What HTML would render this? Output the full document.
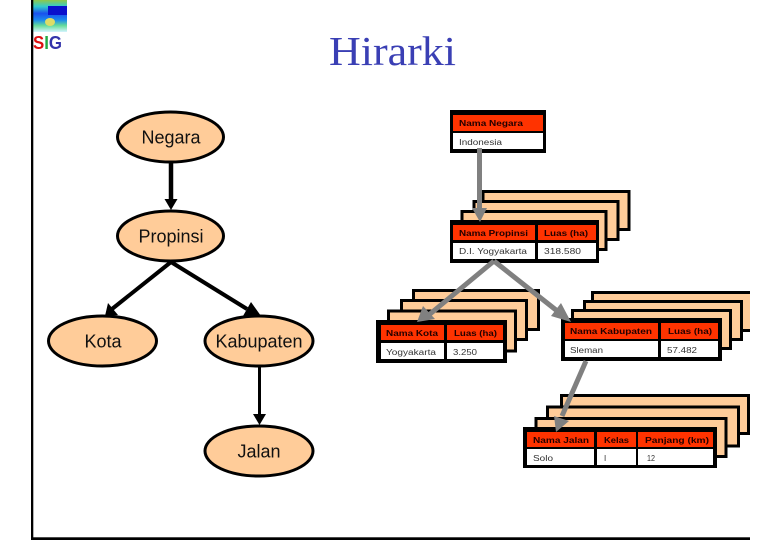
<!DOCTYPE html>
<html><head><meta charset="utf-8"><style>
html,body{margin:0;padding:0;background:#fff;width:780px;height:540px;overflow:hidden}
svg{display:block;filter:blur(.35px)}
.s{fill:#ffcc99;stroke:#000;stroke-width:3}
.b{fill:#000}
.r{fill:#ff3300}
.w{fill:#fff}
.e{fill:#ffcc99;stroke:#000;stroke-width:3}
.h{font:bold 8px "Liberation Sans",sans-serif;fill:#220000}
.c{font:8px "Liberation Sans",sans-serif;fill:#333}
.l{font:18px "Liberation Sans",sans-serif;fill:#111;text-anchor:middle}
</style></head><body>
<svg width="780" height="540" viewBox="0 0 780 540" xmlns="http://www.w3.org/2000/svg">
<defs>
<linearGradient id="lg" x1="0" y1="0" x2="0" y2="1">
<stop offset="0" stop-color="#8fc84a"/><stop offset=".2" stop-color="#33cccc"/><stop offset=".42" stop-color="#1a50ee"/><stop offset=".62" stop-color="#1a88ee"/><stop offset=".8" stop-color="#66dd99"/><stop offset="1" stop-color="#d5f4ff"/>
</linearGradient>
<clipPath id="cp"><rect x="0" y="0" width="750" height="540"/></clipPath>
</defs>
<rect x="33" y="0" width="34" height="32" fill="url(#lg)"/>
<ellipse cx="50" cy="22" rx="5" ry="4" fill="#dddd66"/>
<rect x="48" y="6" width="19" height="9" fill="#0a10cc"/>
<text x="33" y="49" font-family="Liberation Sans,sans-serif" font-weight="bold" font-size="18" textLength="29" lengthAdjust="spacingAndGlyphs"><tspan fill="#dd1111">S</tspan><tspan fill="#22aa44">I</tspan><tspan fill="#3333aa">G</tspan></text>
<rect x="31" y="0" width="2.300" height="540" fill="#000"/>
<rect x="31" y="537.300" width="719" height="2.700" fill="#000"/>
<text x="329" y="65" font-family="Liberation Serif,serif" font-size="41" fill="#3a3fb4" textLength="127" lengthAdjust="spacingAndGlyphs">Hirarki</text>

<!-- left tree -->
<path d="M171 163V200" stroke="#000" stroke-width="4.5" fill="none"/>
<path d="M164.500 199H177.500L171 210Z" class="b"/>
<path d="M171 262L112 309M171 262L247 309" stroke="#000" stroke-width="4" fill="none"/>
<path d="M105 316L108 303L118 315Z" class="b"/>
<path d="M261 316L243 316L251 302Z" class="b"/>
<path d="M259.500 367V416" stroke="#000" stroke-width="3" fill="none"/>
<path d="M253 414H266L259.500 425Z" class="b"/>
<ellipse class="e" cx="170.500" cy="137" rx="53" ry="25"/>
<ellipse class="e" cx="170.500" cy="236" rx="53" ry="25"/>
<ellipse class="e" cx="102.500" cy="341" rx="54" ry="25"/>
<ellipse class="e" cx="259" cy="341" rx="54" ry="25"/>
<ellipse class="e" cx="259" cy="451" rx="54" ry="25"/>
<text class="l" x="171" y="143.500">Negara</text>
<text class="l" x="171" y="242.500">Propinsi</text>
<text class="l" x="103" y="347.500">Kota</text>
<text class="l" x="259" y="347.500">Kabupaten</text>
<text class="l" x="259" y="457.500">Jalan</text>

<g clip-path="url(#cp)">
<!-- Negara table -->
<rect class="b" x="450" y="110" width="96" height="43"/>
<rect class="r" x="453" y="115" width="90" height="16"/>
<rect class="w" x="453" y="133" width="90" height="16"/>
<text class="h" x="459" y="126" textLength="64" lengthAdjust="spacingAndGlyphs">Nama Negara</text>
<text class="c" x="459" y="145" textLength="43" lengthAdjust="spacingAndGlyphs">Indonesia</text>

<!-- Propinsi stack -->
<rect class="s" x="483" y="191.500" width="146" height="38"/>
<rect class="s" x="474" y="201.500" width="144" height="38"/>
<rect class="s" x="462" y="211.500" width="144" height="38"/>
<rect class="b" x="450" y="220" width="149" height="43"/>
<rect class="r" x="453" y="225" width="82" height="15"/>
<rect class="r" x="538" y="225" width="58" height="15"/>
<rect class="w" x="453" y="243" width="82" height="16"/>
<rect class="w" x="538" y="243" width="58" height="16"/>
<text class="h" x="459" y="236" textLength="69" lengthAdjust="spacingAndGlyphs">Nama Propinsi</text>
<text class="h" x="544" y="236" textLength="44" lengthAdjust="spacingAndGlyphs">Luas (ha)</text>
<text class="c" x="459" y="254" textLength="68" lengthAdjust="spacingAndGlyphs">D.I. Yogyakarta</text>
<text class="c" x="544" y="254" textLength="37" lengthAdjust="spacingAndGlyphs">318.580</text>

<!-- Kota stack -->
<rect class="s" x="413.500" y="290.500" width="125" height="39"/>
<rect class="s" x="401.500" y="300.500" width="125" height="39"/>
<rect class="s" x="388.500" y="311" width="127" height="40"/>
<rect class="b" x="376" y="320" width="131" height="43"/>
<rect class="r" x="381" y="325" width="63" height="15"/>
<rect class="r" x="447" y="325" width="56" height="15"/>
<rect class="w" x="381" y="343" width="63" height="16"/>
<rect class="w" x="447" y="343" width="56" height="16"/>
<text class="h" x="386" y="336" textLength="52" lengthAdjust="spacingAndGlyphs">Nama Kota</text>
<text class="h" x="454" y="336" textLength="43" lengthAdjust="spacingAndGlyphs">Luas (ha)</text>
<text class="c" x="386" y="355" textLength="50" lengthAdjust="spacingAndGlyphs">Yogyakarta</text>
<text class="c" x="453" y="355" textLength="24" lengthAdjust="spacingAndGlyphs">3.250</text>

<!-- Kabupaten stack -->
<rect class="s" x="592.500" y="292.500" width="170" height="38"/>
<rect class="s" x="584.500" y="301.500" width="157" height="38"/>
<rect class="s" x="572.500" y="310.500" width="158" height="38"/>
<rect class="b" x="561" y="318" width="161" height="43"/>
<rect class="r" x="565" y="323" width="93" height="16"/>
<rect class="r" x="661" y="323" width="57" height="16"/>
<rect class="w" x="565" y="341" width="93" height="16"/>
<rect class="w" x="661" y="341" width="57" height="16"/>
<text class="h" x="570" y="334" textLength="82" lengthAdjust="spacingAndGlyphs">Nama Kabupaten</text>
<text class="h" x="668" y="334" textLength="44" lengthAdjust="spacingAndGlyphs">Luas (ha)</text>
<text class="c" x="570" y="353" textLength="33" lengthAdjust="spacingAndGlyphs">Sleman</text>
<text class="c" x="667" y="353" textLength="30" lengthAdjust="spacingAndGlyphs">57.482</text>

<!-- Jalan stack -->
<rect class="s" x="561.500" y="395.500" width="187" height="38"/>
<rect class="s" x="547.500" y="407" width="191" height="39"/>
<rect class="s" x="536" y="418.500" width="190" height="38"/>
<rect class="b" x="523" y="427" width="194" height="41"/>
<rect class="r" x="527" y="432" width="67" height="15"/>
<rect class="r" x="597" y="432" width="39" height="15"/>
<rect class="r" x="638" y="432" width="75" height="15"/>
<rect class="w" x="527" y="449" width="67" height="16"/>
<rect class="w" x="597" y="449" width="39" height="16"/>
<rect class="w" x="638" y="449" width="75" height="16"/>
<text class="h" x="533" y="443" textLength="56" lengthAdjust="spacingAndGlyphs">Nama Jalan</text>
<text class="h" x="604" y="443" textLength="25" lengthAdjust="spacingAndGlyphs">Kelas</text>
<text class="h" x="645" y="443" textLength="64" lengthAdjust="spacingAndGlyphs">Panjang (km)</text>
<text class="c" x="533" y="461" textLength="20" lengthAdjust="spacingAndGlyphs">Solo</text>
<text class="c" x="604" y="461">I</text>
<text class="c" x="647" y="461" textLength="8" lengthAdjust="spacingAndGlyphs">12</text>
</g>

<!-- gray arrows -->
<g fill="#808080">
<path d="M479.500 148V212" stroke="#808080" stroke-width="5" fill="none"/>
<path d="M472 208H487L480 222Z"/>
<path d="M494 261L430 314M494 261L556 310" stroke="#808080" stroke-width="5" fill="none"/>
<path d="M417 322L423 306L435 319Z"/>
<path d="M571 322L551 316L561 303Z"/>
<path d="M586 361L562 416" stroke="#808080" stroke-width="5" fill="none"/>
<path d="M556 432L554 416L569 421Z"/>
</g>
</svg>
</body></html>
